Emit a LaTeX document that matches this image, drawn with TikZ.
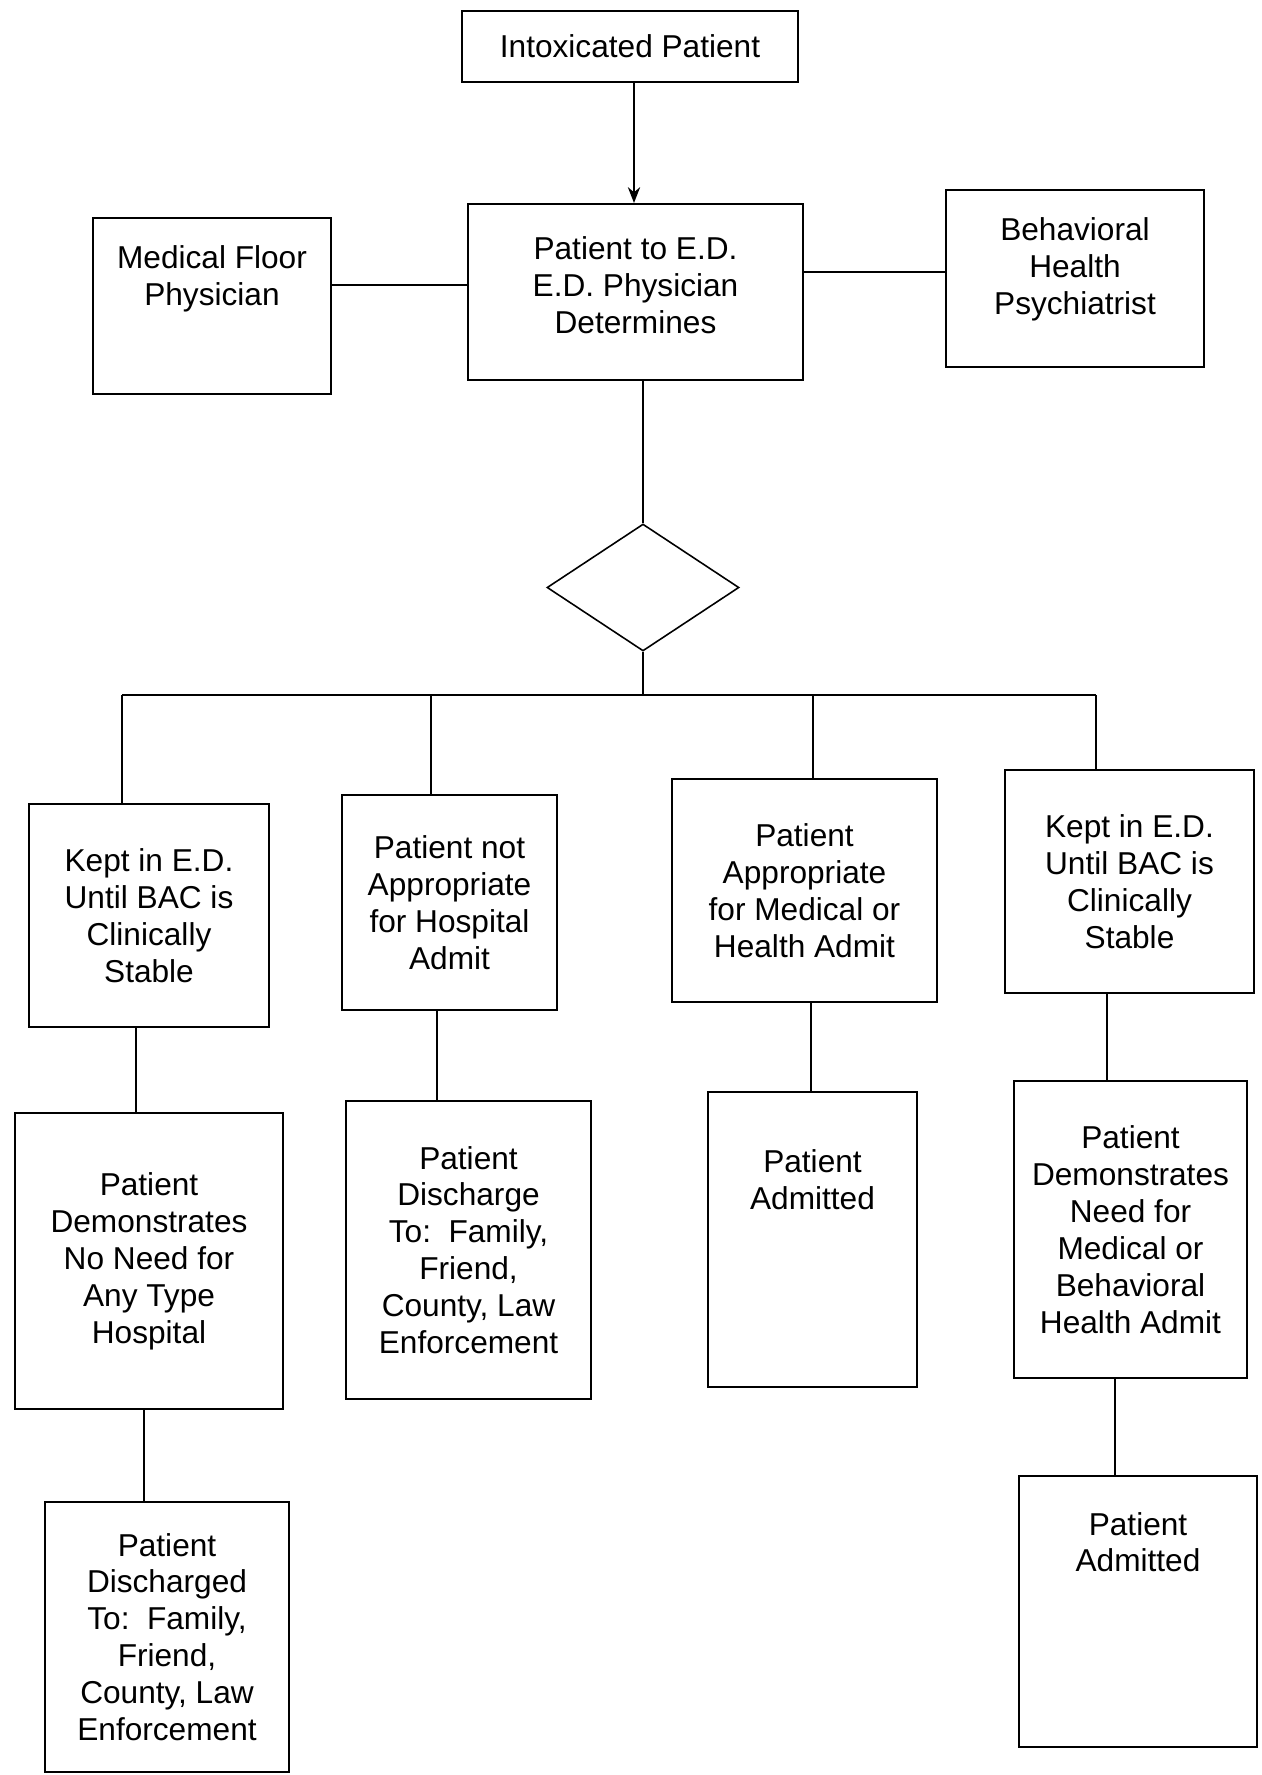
\documentclass[tikz,border=0pt]{standalone}
\usepackage{fontspec}
\setmainfont{Liberation Sans}
\usetikzlibrary{shapes.geometric, arrows.meta, positioning, calc}

\begin{document}
\begin{tikzpicture}[
  flowbox/.style={draw, line width=1.2pt, align=center, inner sep=0pt,
    font=\fontsize{18}{21}\selectfont},
  toptext/.style={align=center, anchor=north, font=\fontsize{18}{21}\selectfont},
  link/.style={line width=0.9pt}]
  \useasboundingbox (0,0) rectangle (25.22,-35.5);

  % top of the chart
  \node[flowbox, minimum width=6.72cm, minimum height=1.42cm] (intox) at (12.6,-0.93)
    {Intoxicated Patient};
  \node[flowbox, minimum width=6.7cm, minimum height=3.52cm,
    label={[toptext, yshift=-0.55cm]north:{Patient to E.D.\\E.D. Physician\\Determines}}] (ed) at (12.71,-5.84) {};
  \node[flowbox, minimum width=4.76cm, minimum height=3.52cm,
    label={[toptext, yshift=-0.45cm]north:{Medical Floor\\Physician}}] (medfloor) at (4.24,-6.12) {};
  \node[flowbox, minimum width=5.16cm, minimum height=3.54cm,
    label={[toptext, yshift=-0.45cm]north:{Behavioral\\Health\\Psychiatrist}}] (behav) at (21.5,-5.57) {};

  \node[draw, diamond, line width=0.9pt, inner sep=0pt,
    minimum width=3.84cm, minimum height=2.54cm] (choice) at (12.86,-11.75) {};

  % first row
  \node[flowbox, minimum width=4.8cm, minimum height=4.46cm] (a1) at (2.98,-18.31)
    {Kept in E.D.\\Until BAC is\\Clinically\\Stable};
  \node[flowbox, minimum width=4.3cm, minimum height=4.3cm] (b1) at (8.99,-18.05)
    {Patient not\\Appropriate\\for Hospital\\Admit};
  \node[flowbox, minimum width=5.3cm, minimum height=4.46cm] (c1) at (16.09,-17.81)
    {Patient\\Appropriate\\for Medical or\\Health Admit};
  \node[flowbox, minimum width=4.98cm, minimum height=4.46cm] (d1) at (22.59,-17.63)
    {Kept in E.D.\\Until BAC is\\Clinically\\Stable};

  % second row
  \node[flowbox, minimum width=5.36cm, minimum height=5.92cm] (a2) at (2.98,-25.22)
    {Patient\\Demonstrates\\No Need for\\Any Type\\Hospital};
  \node[flowbox, minimum width=4.9cm, minimum height=5.96cm] (b2) at (9.37,-25.0)
    {Patient\\Discharge\\To:\ \ Family,\\Friend,\\County, Law\\Enforcement};
  \node[flowbox, minimum width=4.18cm, minimum height=5.9cm,
    label={[toptext, yshift=-1.05cm]north:{Patient\\Admitted}}] (c2) at (16.25,-24.79) {};
  \node[flowbox, minimum width=4.66cm, minimum height=5.94cm] (d2) at (22.61,-24.59)
    {Patient\\Demonstrates\\Need for\\Medical or\\Behavioral\\Health Admit};

  % third row
  \node[flowbox, minimum width=4.88cm, minimum height=5.4cm] (a3) at (3.34,-32.74)
    {Patient\\Discharged\\To:\ \ Family,\\Friend,\\County, Law\\Enforcement};
  \node[flowbox, minimum width=4.76cm, minimum height=5.42cm,
    label={[toptext, yshift=-0.62cm]north:{Patient\\Admitted}}] (d3) at (22.76,-32.23) {};

  % connectors
  \draw[link, -{Stealth[length=9pt, width=7pt]}] (12.68,0 |- intox.south) -- (12.68,0 |- ed.north);
  \draw[link] (medfloor.east |- 0,-5.7) -- (ed.west |- 0,-5.7);
  \draw[link] (behav.west |- 0,-5.44) -- (ed.east |- 0,-5.44);
  \draw[link] (choice.north) -- (choice.north |- ed.south);

  \coordinate (bar) at (12.86,-13.9);
  \coordinate (barA) at (2.44,-13.9);
  \coordinate (barB) at (8.62,-13.9);
  \coordinate (barC) at (16.26,-13.9);
  \coordinate (barD) at (21.92,-13.9);
  \draw[link] (choice.south) -- (bar);
  \draw[link] (barA) -- (barD);
  \draw[link] (barA) -- (barA |- a1.north);
  \draw[link] (barB) -- (barB |- b1.north);
  \draw[link] (barC) -- (barC |- c1.north);
  \draw[link] (barD) -- (barD |- d1.north);

  \draw[link] (2.72,0 |- a1.south) -- (2.72,0 |- a2.north);
  \draw[link] (8.74,0 |- b1.south) -- (8.74,0 |- b2.north);
  \draw[link] (16.22,0 |- c1.south) -- (16.22,0 |- c2.north);
  \draw[link] (22.14,0 |- d1.south) -- (22.14,0 |- d2.north);
  \draw[link] (2.88,0 |- a2.south) -- (2.88,0 |- a3.north);
  \draw[link] (22.3,0 |- d2.south) -- (22.3,0 |- d3.north);
\end{tikzpicture}
\end{document}
